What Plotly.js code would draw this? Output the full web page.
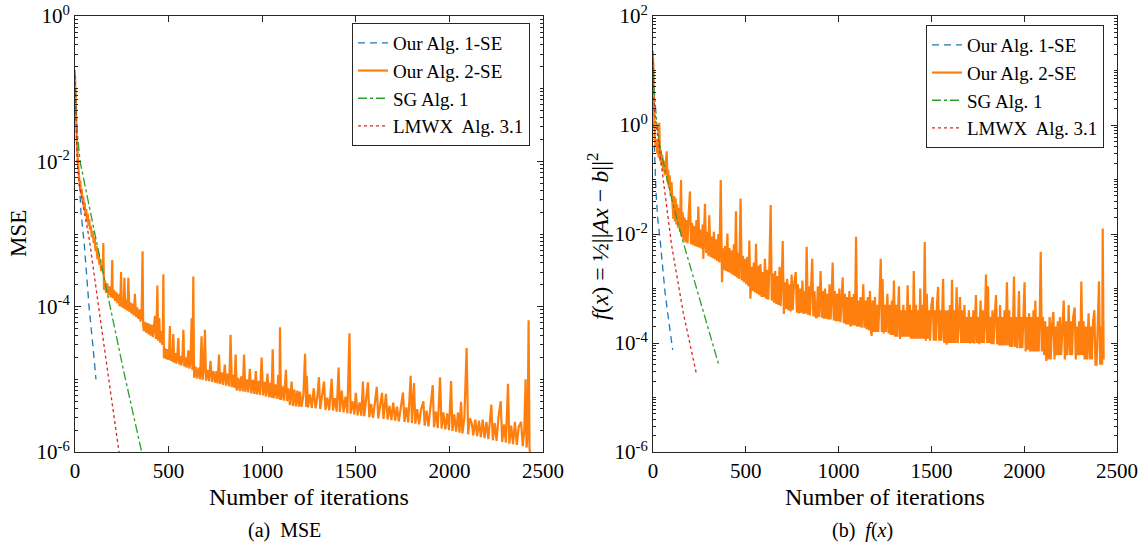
<!DOCTYPE html>
<html>
<head>
<meta charset="utf-8">
<script src="https://cdn.plot.ly/plotly-3.0.1.min.js"></script>
<style>html,body{margin:0;padding:0;background:#fff;}#chart{width:1148px;height:546px;}</style>
</head>
<body>
<div id="chart"></div>
<script>
// ---------------- DATA ----------------
const seriesNames = ['Our Alg. 1-SE', 'Our Alg. 2-SE', 'SG Alg. 1', 'LMWX  Alg. 3.1'];
const iterTicks = [0, 500, 1000, 1500, 2000, 2500];

// (a) MSE
const mseAlg1X = [0, 5, 10, 17, 32, 50, 75, 95, 112];
const mseAlg1Y = [0.15, 0.04, 0.02, 0.01, 0.002, 7e-4, 1e-4, 3e-5, 1e-5];

const mseSGX = [0, 5, 12, 27, 100, 169, 260, 356];
const mseSGY = [0.18, 0.05, 0.025, 0.01, 1.2e-3, 1.7e-4, 1.3e-5, 1e-6];

const mseLMWXX = [0, 5, 11, 25, 48, 77, 126, 180, 235];
const mseLMWXY = [0.15, 0.03, 0.01, 4.5e-3, 2e-3, 8.3e-4, 1e-4, 1e-5, 1e-6];

const mseAlg2X = [0,3,6,10,14,18,22,25,28,32,36,40,44,48,52,56,60,64,68,72,76,80,85,90,95,100,105,110,115,120,125,130,135,140,145,150,151,152,
155,160,166,172,178,184,190,196,199,202,208,214,220,226,232,238,243,246,250,256,260,264,268,274,280,285,290,296,302,308,314,320,326,332,338,344,350,356,361,364,
368,374,380,386,392,398,404,410,416,422,427,432,436,440,444,450,455,460,465,469,472,
475,480,486,492,498,503,507,511,516,520,525,530,536,542,547,552,557,563,568,574,579,584,590,596,601,606,611,617,623,627,632,
636,644,652,660,668,676,682,688,694,700,708,716,724,732,740,748,756,762,769,776,784,792,800,808,816,824,831,838,846,852,858,864,872,880,888,896,903,910,918,926,934,942,950,958,966,972,980,988,997,1004,1012,1020,1028,1036,1044,1050,1056,1062,1070,1078,1086,1092,1095,1100,1108,1116,1122,1127,1132,1140,1148,1157,1164,1172,1180,1188,1196,1202,
1210,1220,1229,1235,1238,1245,1255,1265,1275,1285,1295,1303,1310,1320,1330,1338,1348,1358,1366,1371,1378,1388,1398,1408,1415,1425,1435,1445,1455,1466,1472,1482,1492,1500,1510,1520,1530,1538,1545,1555,1565,1572,1582,1592,1602,1612,1620,1630,1640,1648,1661,1670,1680,1690,1700,1710,1720,1730,1740,1752,1760,1770,1780,1793,1800,1811,1818,1828,1838,1848,1861,1868,1878,1888,1898,1911,1918,1928,1938,1950,1958,1968,1978,1988,1998,2009,2016,2026,2036,2046,2054,2062,2070,2080,2092,2100,2110,2119,2128,2138,2148,2158,2168,2178,2188,2198,2208,2224,2232,2242,2252,2262,2274,2282,2292,2302,2313,2320,2330,2340,2350,2360,2370,2383,2392,2400,2407,2412,2418,2423,2428,2436];
const mseAlg2Y = [0.15,0.06,0.03,0.018,0.012,0.008,0.0065,0.0045,0.0055,0.0035,0.0042,0.0028,0.0033,0.0022,0.0027,0.0018,0.0022,0.0015,0.0019,0.0013,0.0016,0.00115,0.0013,0.0009,0.0011,0.00075,0.0009,0.00058,0.00068,0.00045,0.00055,0.00038,0.00046,0.00031,0.00036,0.00029,0.00075,0.00029,
1.7e-4,2.3e-4,1.55e-4,2.1e-4,1.45e-4,1.9e-4,1.35e-4,1.8e-4,4.4e-4,1.3e-4,1.7e-4,1.2e-4,1.6e-4,1.12e-4,1.5e-4,1.02e-4,1.4e-4,3.0e-4,9.8e-5,1.3e-4,9.5e-5,2.5e-4,9.2e-5,1.25e-4,8.8e-5,2.5e-4,8.5e-5,1.15e-4,8.0e-5,1.1e-4,7.6e-5,1.5e-4,7.2e-5,9.8e-5,6.8e-5,9.2e-5,6.2e-5,8.5e-5,5.8e-4,5.6e-5,
4.6e-5,6.2e-5,4.4e-5,6.0e-5,4.2e-5,5.8e-5,4.0e-5,5.6e-5,3.8e-5,5.4e-5,7.5e-5,3.6e-5,5.2e-5,1.95e-4,3.4e-5,7.0e-5,3.2e-5,4.6e-5,3.0e-5,4.2e-5,2.8e-4,
1.95e-5,2.7e-5,1.9e-5,2.6e-5,1.85e-5,2.5e-5,5.4e-5,1.8e-5,2.4e-5,1.75e-5,4.2e-5,1.7e-5,2.3e-5,1.65e-5,2.2e-5,3.7e-5,1.6e-5,2.1e-5,1.55e-5,2.0e-5,4.8e-5,1.5e-5,2.0e-5,1.45e-5,1.9e-5,2.5e-5,1.4e-5,1.8e-5,6.9e-5,1.35e-5,2.6e-4,
1.05e-5,1.5e-5,1.02e-5,1.45e-5,1.0e-5,3.9e-5,9.8e-6,1.4e-5,4.8e-5,9.6e-6,1.35e-5,9.4e-6,1.8e-5,9.2e-6,1.3e-5,9.0e-6,1.3e-5,8.8e-6,2.2e-5,8.6e-6,1.25e-5,8.4e-6,1.6e-5,8.2e-6,1.2e-5,8.0e-6,4.1e-5,7.8e-6,1.15e-5,7.6e-6,2.2e-5,7.0e-6,1.05e-5,6.9e-6,1.1e-5,6.8e-6,2.2e-5,6.7e-6,1.0e-5,6.6e-6,1.4e-5,6.4e-6,9.8e-6,6.3e-6,1.3e-5,6.2e-6,9.5e-6,6.1e-6,2.0e-5,6.0e-6,9.2e-6,5.8e-6,1.2e-5,5.7e-6,9.0e-6,5.6e-6,2.6e-5,5.5e-6,8.5e-6,5.4e-6,1.15e-5,5.3e-6,5.2e-5,5.2e-6,8.0e-6,5.1e-6,7.8e-6,1.35e-5,5.0e-6,7.5e-6,4.4e-6,9.3e-6,4.3e-6,7.2e-6,4.25e-6,7.0e-6,4.2e-6,6.8e-6,
4.2e-6,6.0e-6,2.25e-5,4.15e-6,1.12e-5,4.1e-6,6.2e-6,4.05e-6,7.5e-6,4.0e-6,5.8e-6,1.07e-5,3.9e-6,6.0e-6,9.3e-6,3.8e-6,5.6e-6,3.75e-6,6.5e-6,1.02e-5,3.7e-6,5.5e-6,3.6e-6,1.45e-5,3.55e-6,7.0e-6,3.5e-6,5.8e-6,3.4e-6,4.3e-5,3.35e-6,5.0e-6,3.3e-6,6.5e-6,3.2e-6,4.8e-6,3.15e-6,9.3e-6,3.1e-6,5.2e-6,9.1e-6,3.0e-6,4.6e-6,2.95e-6,5.0e-6,7.9e-6,2.9e-6,4.4e-6,6.5e-6,2.85e-6,6.3e-6,2.8e-6,4.3e-6,2.75e-6,4.8e-6,2.7e-6,4.2e-6,2.65e-6,4.0e-6,6.6e-6,2.6e-6,4.1e-6,2.55e-6,1.12e-5,2.5e-6,8.9e-6,2.45e-6,3.9e-6,2.4e-6,3.8e-6,5.0e-6,2.3e-6,3.7e-6,2.25e-6,4.0e-6,8.3e-6,2.2e-6,3.6e-6,2.15e-6,1.07e-5,2.1e-6,3.5e-6,2.05e-6,3.4e-6,2.0e-6,9.5e-6,1.95e-6,3.3e-6,1.9e-6,3.5e-6,1.85e-6,4.9e-6,1.8e-6,3.0e-6,2.7e-5,1.75e-6,2.9e-6,2.5e-6,1.7e-6,2.8e-6,1.65e-6,2.7e-6,1.6e-6,2.8e-6,1.55e-6,2.6e-6,1.5e-6,4.5e-6,1.45e-6,2.5e-6,1.42e-6,3.0e-6,5.0e-6,1.38e-6,2.4e-6,1.35e-6,8.7e-6,1.3e-6,2.3e-6,1.28e-6,2.6e-6,1.25e-6,2.2e-6,2.6e-6,1.2e-6,2.0e-6,1.0e-5,1.15e-6,1.8e-6,6.5e-5,1.12e-6,8e-7];

// (b) f(x) = 1/2 ||Ax - b||^2
const fAlg1X = [0, 3, 8, 16, 25, 38, 65, 85, 106];
const fAlg1Y = [15, 1.2, 0.35, 0.06, 0.02, 0.008, 8.5e-4, 2.5e-4, 7.5e-5];

const fSGX = [0, 5, 11, 20, 38, 100, 155, 255, 357];
const fSGY = [23, 5, 2.8, 1.1, 0.38, 0.045, 8.7e-3, 6e-4, 3.7e-5];

const fLMWXX = [0, 4, 11, 29, 47, 100, 163, 235];
const fLMWXY = [15, 4, 1.5, 0.5, 0.19, 6.3e-3, 3.6e-4, 2.6e-5];

const fAlg2X = [0,2,4,7,10,14,18,22,26,30,34,38,42,46,50,56,60,64,68,74,78,82,86,90,95,100,105,110,114,118,122,126,130,135,140,145,151,155,160,164,170,175,180,186,192,199,204,210,216,222,228,234,240,244,250,256,262,268,271,280,286,292,298,303,310,316,322,328,334,340,346,352,358,365,372,376,382,388,394,401,406,412,418,424,430,436,441,447,452,458,464,472,478,484,490,496,502,508,514,519,525,531,537,543,549,555,561,567,573,579,585,591,597,603,609,615,621,627,634,640,646,652,658,664,670,676,682,688,694,699,705,711,717,723,729,735,741,747,753,759,769,775,781,787,793,799,805,811,817,822,828,834,840,846,852,858,864,870,876,882,888,894,903,909,915,921,927,933,939,945,951,957,963,968,974,980,986,992,998,1004,1010,1016,1022,1028,1034,1040,1046,1052,1058,1064,1070,1076,1082,1088,1094,1100,1106,1112,1118,1124,1133,1139,1145,1151,1157,1163,1169,1175,1178,1184,1190,1196,1202,1208,1214,1220,1227,1233,1237,1243,1249,1255,1263,1269,1275,1281,1287,1292,1298,1304,1310,1316,1325,1331,1337,1343,1349,1355,1361,1366,1372,1378,1384,1390,1396,1400,1405,1411,1417,1423,1429,1434,1440,1446,1452,1458,1464,1470,1475,1481,1487,1493,1500,1507,1513,1519,1525,1530,1536,1542,1548,1554,1563,1569,1575,1582,1588,1594,1600,1606,1611,1617,1623,1629,1636,1642,1648,1654,1660,1666,1672,1678,1684,1690,1696,1702,1708,1714,1720,1726,1732,1740,1746,1752,1758,1765,1771,1777,1783,1789,1794,1800,1805,1811,1817,1823,1829,1835,1841,1848,1854,1860,1866,1870,1876,1882,1888,1894,1900,1907,1913,1919,1925,1931,1937,1945,1951,1957,1963,1972,1978,1984,1990,1996,2002,2008,2014,2020,2026,2032,2038,2044,2050,2056,2060,2066,2072,2078,2084,2089,2095,2101,2107,2113,2119,2125,2131,2137,2143,2149,2157,2163,2169,2175,2181,2187,2193,2199,2205,2213,2219,2225,2231,2240,2246,2252,2258,2264,2272,2278,2284,2290,2296,2302,2308,2314,2320,2326,2332,2338,2347,2353,2359,2365,2371,2378,2384,2390,2396,2403,2409,2415,2420,2423,2428];
const fAlg2Y = [17,13,3,1.0,0.6,0.4,0.55,0.3,0.45,0.25,1.1,0.22,0.35,0.18,0.28,0.14,0.22,0.12,0.2,0.33,0.09,0.15,0.07,0.12,0.05,0.09,0.035,0.019,0.05,0.017,0.045,0.015,0.035,0.013,0.03,0.011,0.098,0.009,0.025,0.0076,0.02,0.007,0.018,0.0068,0.022,0.06,0.0065,0.016,0.0062,0.014,0.006,0.018,0.0058,0.032,0.0056,0.012,0.0054,0.015,0.0035,0.036,0.0045,0.011,0.004,0.022,0.0038,0.009,0.0036,0.011,0.0034,0.008,0.0032,0.01,0.003,0.098,0.0013,0.0055,0.0022,0.006,0.0021,0.0102,0.002,0.0055,0.0019,0.005,0.0018,0.0065,0.0017,0.026,0.0016,0.0045,0.0015,0.045,0.0014,0.004,0.0013,0.0035,0.0012,0.0038,0.0011,0.0076,0.00065,0.0025,0.0009,0.003,0.00085,0.0066,0.0008,0.0026,0.00075,0.0028,0.0007,0.002,0.0007,0.0035,0.00065,0.0022,0.00062,0.0024,0.034,0.0006,0.0019,0.00055,0.0021,0.00052,0.0017,0.0005,0.0025,0.00048,0.0016,0.0074,0.00034,0.0013,0.00042,0.0015,0.0004,0.0012,0.00038,0.0018,0.0004,0.0011,0.002,0.00036,0.0012,0.00035,0.001,0.00036,0.0014,0.00034,0.0009,0.00035,0.0058,0.00033,0.0011,0.00032,0.0012,0.0035,0.00031,0.0009,0.0003,0.00029,0.0011,0.0003,0.0021,0.00029,0.0009,0.00028,0.001,0.00028,0.0008,0.00027,0.0012,0.00027,0.0008,0.003,0.00026,0.0009,0.00025,0.0008,0.00025,0.001,0.00024,0.0007,0.0016,0.00023,0.0008,0.00022,0.0007,0.00022,0.0009,0.0002,0.0007,0.00021,0.0008,0.00021,0.0089,0.0002,0.0006,0.0002,0.0007,0.00019,0.0012,0.00019,0.0006,0.00018,0.0007,0.00017,0.0009,0.00016,0.000135,0.0006,0.00016,0.0007,0.00016,0.0005,0.00016,0.0006,0.0035,0.00016,0.0015,0.00015,0.0005,0.00016,0.0008,0.00015,0.0005,0.00014,0.0006,0.00014,0.0014,0.00013,0.0005,0.00013,0.0011,0.000118,0.0004,0.00013,0.0005,0.00013,0.0004,0.00013,0.00115,0.00013,0.0005,0.00012,0.0004,0.00012,0.0021,0.00012,0.0005,0.00012,0.0004,0.00012,0.001,0.00012,0.0005,0.00012,0.0071,0.00011,0.0008,0.00012,0.0004,0.00011,0.0005,0.0007,0.00011,0.0004,0.00011,0.0005,0.00107,0.00011,0.0004,0.00011,0.0015,0.0001,0.0004,0.000093,0.0004,0.0001,0.0005,0.0001,0.00145,0.0001,0.0004,0.0001,0.00105,0.0001,0.0004,0.0007,0.0001,0.0004,0.0001,0.0005,0.0001,0.0003,0.0001,0.0004,0.000098,0.0003,0.0001,0.0004,0.000098,0.00076,0.0001,0.0003,0.000095,0.0006,0.0001,0.0004,0.0001,0.0003,0.0018,0.0001,0.0011,0.0001,0.0003,0.000095,0.0004,0.000095,0.0003,0.00076,0.000095,0.0003,0.00009,0.0005,0.00009,0.0003,0.00009,0.0004,0.00009,0.0013,0.00009,0.0004,0.000085,0.0003,0.000085,0.00166,0.000085,0.0003,0.00008,0.0009,0.00008,0.0003,0.00008,0.0004,0.0013,0.00007,0.0003,0.000075,0.00035,0.00007,0.0003,0.00007,0.0004,0.00007,0.0006,0.00007,0.0003,0.00007,0.00035,0.0047,0.00007,0.0003,0.00006,0.00025,0.000047,0.0002,0.00005,0.0003,0.00005,0.0002,0.00037,0.00005,0.0002,0.00006,0.00025,0.00006,0.0003,0.00006,0.0002,0.0006,0.00005,0.00025,0.00006,0.0005,0.00006,0.00025,0.00006,0.0003,0.00045,0.00005,0.0002,0.00006,0.00025,0.00006,0.00135,0.00006,0.00025,0.00005,0.0002,0.00005,0.00035,0.00005,0.0002,0.00005,0.00025,0.0004,0.00004,0.00004,0.0002,0.00135,0.00004,0.0002,0.00004,0.0126,0.00005];

const mseTickVals = [1e-6, 1e-4, 1e-2, 1e0];
const mseTickText = ['10<sup>-6</sup>', '10<sup>-4</sup>', '10<sup>-2</sup>', '10<sup>0</sup>'];
const fTickVals = [1e-6, 1e-4, 1e-2, 1e0, 1e2];
const fTickText = ['10<sup>-6</sup>', '10<sup>-4</sup>', '10<sup>-2</sup>', '10<sup>0</sup>', '10<sup>2</sup>'];

// ---------------- STYLE ----------------
const colors = ['#1f77b4', '#ff7f0e', '#2ca02c', '#d62728'];
const dashes = ['7px,5px', 'solid', 'dashdot', 'dot'];
const widths = [1.3, 2.2, 1.3, 1.3];
const FONT = 'Liberation Serif';
const AX = '#262626';

function minorTicks(lo, hi) {
  const v = [];
  for (let e = lo; e < hi; e++) for (let m = 1; m <= 9; m++) { if (m > 1 || (e - lo) % 2 === 1) v.push(m * Math.pow(10, e)); }
  return v;
}

function tr(x, y, i, xa, ya, legend) {
  return {
    x: x, y: y, type: 'scatter', mode: 'lines', name: seriesNames[i],
    xaxis: xa, yaxis: ya, legend: legend,
    line: {color: colors[i], width: widths[i], dash: dashes[i]},
    hoverinfo: 'skip'
  };
}

const data = [
  tr(mseAlg1X, mseAlg1Y, 0, 'x', 'y', 'legend'),
  tr(mseAlg2X, mseAlg2Y, 1, 'x', 'y', 'legend'),
  tr(mseSGX, mseSGY, 2, 'x', 'y', 'legend'),
  tr(mseLMWXX, mseLMWXY, 3, 'x', 'y', 'legend'),
  tr(fAlg1X, fAlg1Y, 0, 'x2', 'y2', 'legend2'),
  tr(fAlg2X, fAlg2Y, 1, 'x2', 'y2', 'legend2'),
  tr(fSGX, fSGY, 2, 'x2', 'y2', 'legend2'),
  tr(fLMWXX, fLMWXY, 3, 'x2', 'y2', 'legend2')
];

const common = {
  showline: true, linecolor: AX, linewidth: 1, mirror: 'ticks',
  ticks: 'inside', ticklen: 6, tickwidth: 1, tickcolor: AX,
  showgrid: false, zeroline: false, automargin: false,
  tickfont: {family: FONT, size: 21, color: '#000'}
};

function xaxis(domain, anchor) {
  return Object.assign({}, common, {
    domain: domain, anchor: anchor, range: [0, 2500],
    tickmode: 'array', tickvals: iterTicks, ticktext: iterTicks.map(String)
  });
}
function yaxis(domain, anchor, lo, hi, vals, text) {
  return Object.assign({}, common, {
    domain: domain, anchor: anchor, type: 'log', range: [lo, hi],
    tickmode: 'array', tickvals: vals, ticktext: text,
    minor: {ticks: 'inside', ticklen: 3, tickwidth: 1, tickcolor: AX, tickmode: 'array', tickvals: minorTicks(lo, hi), showgrid: false}
  });
}

const yDom = [1 - 452 / 546, 1 - 16 / 546];
const legendBase = {
  xanchor: 'left', yanchor: 'top', xref: 'paper', yref: 'paper',
  bgcolor: '#ffffff', bordercolor: AX, borderwidth: 1,
  font: {family: FONT, size: 19, color: '#000'}, tracegroupgap: 0, itemwidth: 30
};

const layout = {
  width: 1148, height: 546,
  margin: {l: 0, r: 0, t: 0, b: 0},
  paper_bgcolor: '#fff', plot_bgcolor: '#fff',
  font: {family: FONT, color: '#000'},
  xaxis: xaxis([75 / 1148, 543 / 1148], 'y'),
  yaxis: yaxis(yDom, 'x', -6, 0, mseTickVals, mseTickText),
  xaxis2: xaxis([653 / 1148, 1117 / 1148], 'y2'),
  yaxis2: yaxis(yDom, 'x2', -6, 2, fTickVals, fTickText),
  legend: Object.assign({}, legendBase, {x: 352 / 1148, y: 1 - 23 / 546}),
  legend2: Object.assign({}, legendBase, {x: 926 / 1148, y: 1 - 25 / 546}),
  showlegend: true,
  annotations: [
    {text: 'Number of iterations', x: 309 / 1148, y: 1 - 497 / 546, xref: 'paper', yref: 'paper', showarrow: false, xanchor: 'center', yanchor: 'middle', font: {family: FONT, size: 24, color: '#000'}},
    {text: 'Number of iterations', x: 885 / 1148, y: 1 - 497 / 546, xref: 'paper', yref: 'paper', showarrow: false, xanchor: 'center', yanchor: 'middle', font: {family: FONT, size: 24, color: '#000'}},
    {text: 'MSE', x: 18 / 1148, y: 1 - 234 / 546, xref: 'paper', yref: 'paper', showarrow: false, textangle: -90, xanchor: 'center', yanchor: 'middle', font: {family: FONT, size: 23, color: '#000'}},
    {text: '<i>f</i>(<i>x</i>) = ½||<i>Ax</i> − <i>b</i>||<sup>2</sup>', x: 598 / 1148, y: 1 - 237 / 546, xref: 'paper', yref: 'paper', showarrow: false, textangle: -90, xanchor: 'center', yanchor: 'middle', font: {family: FONT, size: 24, color: '#000'}},
    {text: '(a)  MSE', x: 284 / 1148, y: 1 - 530 / 546, xref: 'paper', yref: 'paper', showarrow: false, xanchor: 'center', yanchor: 'middle', font: {family: FONT, size: 20, color: '#000'}},
    {text: '(b)  <i>f</i>(<i>x</i>)', x: 862 / 1148, y: 1 - 530 / 546, xref: 'paper', yref: 'paper', showarrow: false, xanchor: 'center', yanchor: 'middle', font: {family: FONT, size: 20, color: '#000'}}
  ]
};

Plotly.newPlot('chart', data, layout, {displayModeBar: false, staticPlot: true});
</script>
</body>
</html>
